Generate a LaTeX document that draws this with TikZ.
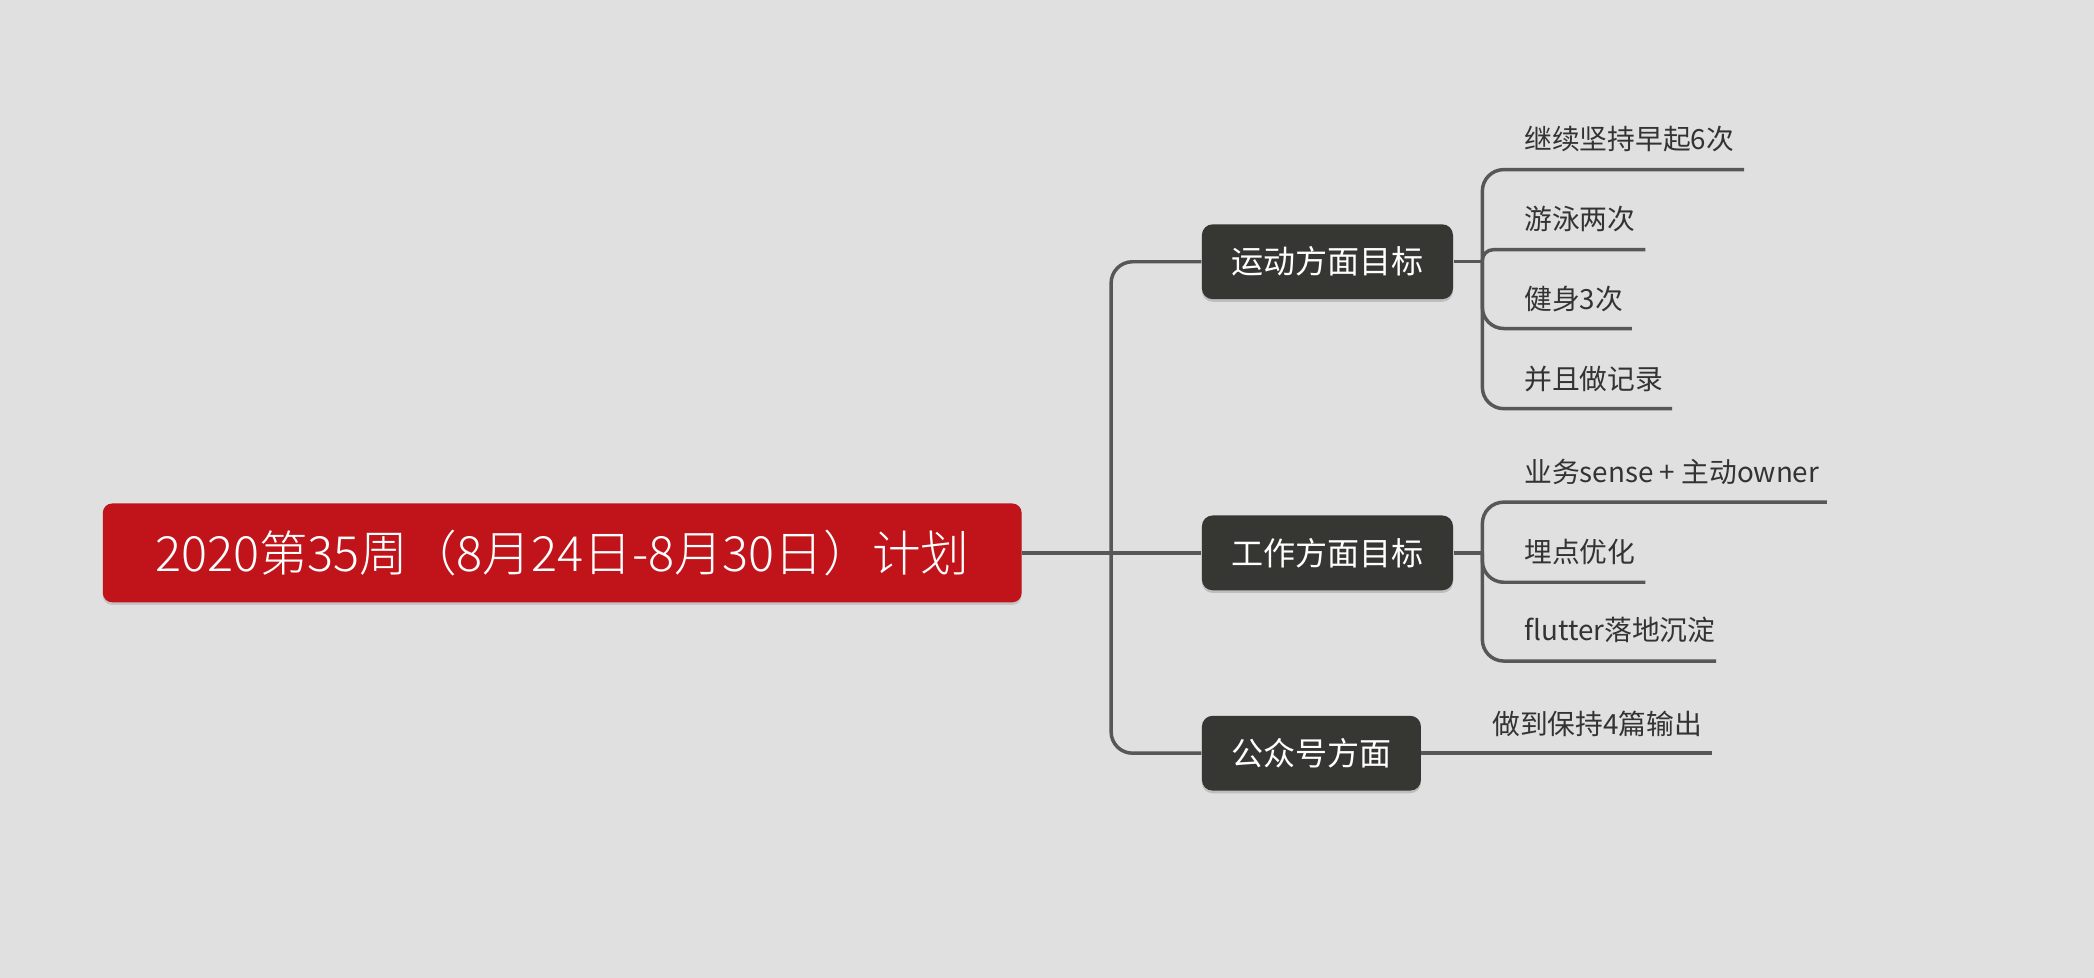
\documentclass[tikz,border=0pt]{standalone}
\usepackage{fontspec}
\setmainfont{Noto Sans CJK SC}
\newfontfamily\rootfont{Noto Sans CJK SC Light}
\usetikzlibrary{shadows}
\definecolor{bgc}{HTML}{E0E0E0}
\definecolor{rootred}{HTML}{C0141A}
\definecolor{boxdark}{HTML}{363632}
\definecolor{linec}{HTML}{575757}
\definecolor{leaftxt}{HTML}{333333}
\tikzset{
  rootbox/.style={fill=rootred, rounded corners=3.5pt, minimum width=344pt, minimum height=37pt, text=white, font=\rootfont\fontsize{18.2}{20}\selectfont, inner sep=0pt,
    drop shadow={shadow xshift=0pt, shadow yshift=-1pt, fill=black, opacity=0.12}},
  mainbox/.style={fill=boxdark, rounded corners=4pt, minimum height=28pt, text=white, font=\fontsize{12}{14}\selectfont, inner sep=0pt,
    drop shadow={shadow xshift=0pt, shadow yshift=-1pt, fill=black, opacity=0.15}},
  leaf/.style={text=leaftxt, font=\fontsize{10.4}{12}\selectfont, inner sep=0pt, anchor=west},
  conn/.style={draw=linec, line width=1.3pt},
}
\begin{document}
\begin{tikzpicture}[x=0.5pt,y=-0.5pt]
\useasboundingbox[fill=bgc] (0,0) rectangle (1568,732);
% root and main nodes
\node[rootbox] (root) at (421,414) {2020第35周（8月24日-8月30日）计划};
\node[mainbox, minimum width=94pt] (b1) at (994,196) {运动方面目标};
\node[mainbox, minimum width=94pt] (b2) at (994,414) {工作方面目标};
\node[mainbox, minimum width=82pt] (b3) at (982,564) {公众号方面};
% trunk
\coordinate (t) at (832,414);
\draw[conn] (root.east) -- (b2.west);
\draw[conn, rounded corners=8pt] (t) |- (b1.west);
\draw[conn, rounded corners=8pt] (t) |- (b3.west);
% group 1 leaves
\node[leaf] (l1) at (1141,104) {继续坚持早起6次};
\node[leaf] (l2) at (1141,164) {游泳两次};
\node[leaf] (l3) at (1141,224) {健身3次};
\node[leaf] (l4) at (1141,284) {并且做记录};
\coordinate (j1) at (1110,196);
\coordinate (e1) at (1306,127);
\coordinate (e2) at (1232,187);
\coordinate (e3) at (1222,246);
\coordinate (e4) at (1252,306);
\draw[conn] (b1.east) -- (j1);
\draw[conn, rounded corners=8pt] (j1) |- (e1);
\draw[conn, rounded corners=4pt] (j1) |- (e2);
\draw[conn, rounded corners=8pt] (j1) |- (e3);
\draw[conn, rounded corners=8pt] (j1) |- (e4);
% group 2 leaves
\node[leaf] (m1) at (1141,353) {业务sense + 主动owner};
\node[leaf] (m2) at (1141,413) {埋点优化};
\node[leaf] (m3) at (1141,472) {flutter落地沉淀};
\coordinate (j2) at (1110,414);
\coordinate (f1) at (1368,376);
\coordinate (f2) at (1232,436);
\coordinate (f3) at (1285,495);
\draw[conn] (b2.east) -- (j2);
\draw[conn, rounded corners=8pt] (j2) |- (f1);
\draw[conn, rounded corners=8pt] (j2) |- (f2);
\draw[conn, rounded corners=8pt] (j2) |- (f3);
% group 3 leaf
\node[leaf] (n1) at (1117,542) {做到保持4篇输出};
\coordinate (g1) at (1282,564);
\draw[conn] (b3.east) -- (g1);
\end{tikzpicture}
\end{document}
